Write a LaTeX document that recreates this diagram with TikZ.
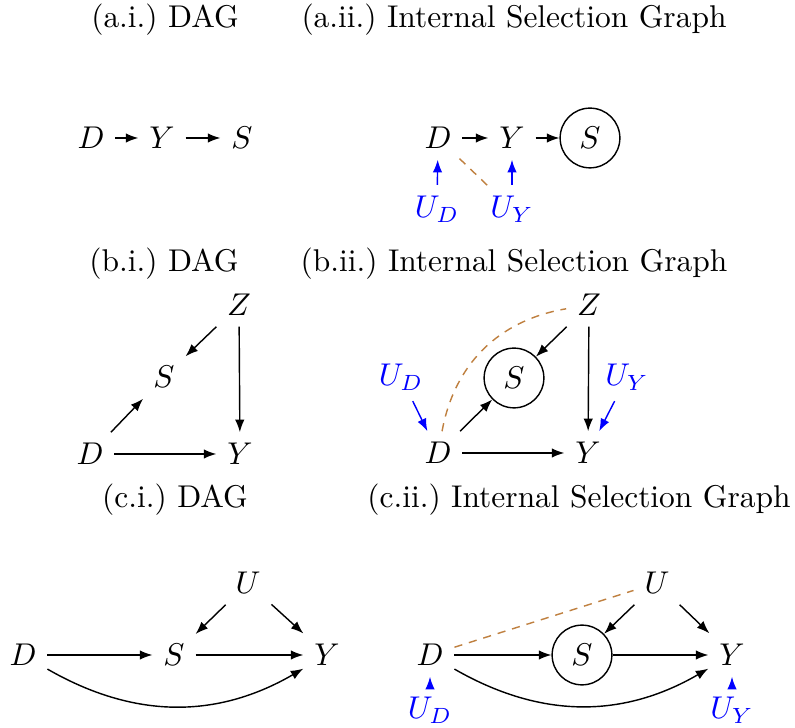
\documentclass[tikz,border=0pt]{standalone}
\usetikzlibrary{arrows.meta,calc}
\begin{document}
\begin{tikzpicture}[x=0.318pt,y=-0.318pt,
  var/.style={inner sep=3.3pt},
  selnode/.style={circle,draw,line width=0.45pt,minimum size=19pt,inner sep=0pt},
  arr/.style={-{Latex[length=4pt,width=3pt]},line width=0.45pt},
  uarr/.style={arr,blue},
  dep/.style={draw=brown,line width=0.45pt,dash pattern=on 2.6pt off 2.2pt},
  ttl/.style={inner sep=0pt}
]
\useasboundingbox (0,0) rectangle (795,728);

% titles
\node[ttl] (t1) at (165,20) {(a.i.)\ DAG};
\node[ttl] (t2) at (514,20) {(a.ii.)\ Internal Selection Graph};
\node[ttl] (t3) at (164,264) {(b.i.)\ DAG};
\node[ttl] (t4) at (514,264) {(b.ii.)\ Internal Selection Graph};
\node[ttl] (t5) at (175,500) {(c.i.)\ DAG};
\node[ttl] (t6) at (579,500) {(c.ii.)\ Internal Selection Graph};

% (a.i)
\node[var] (a1D) at (91,138) {$D$};
\node[var] (a1Y) at (162,138) {$Y$};
\node[var] (a1S) at (242,138) {$S$};
\draw[arr] (a1D) -- (a1Y);
\draw[arr] (a1Y) -- (a1S);

% (a.ii)
\node[var] (a2D) at (438,138) {$D$};
\node[var] (a2Y) at (512,138) {$Y$};
\node[selnode] (a2S) at (590,138) {$S$};
\node[var,blue] (a2UD) at (437,209) {$U_D$};
\node[var,blue] (a2UY) at (512,209) {$U_Y$};
\draw[arr] (a2D) -- (a2Y);
\draw[arr] (a2Y) -- (a2S);
\draw[uarr] (a2UD) -- (a2D);
\draw[uarr] (a2UY) -- (a2Y);
\draw[dep] ($(a2D)!0.29!(a2UY)$) -- ($(a2D)!0.67!(a2UY)$);

% (b.i)
\node[var] (b1Z) at (239,305) {$Z$};
\node[var] (b1S) at (164,377) {$S$};
\node[var] (b1D) at (90,454) {$D$};
\node[var] (b1Y) at (240,454) {$Y$};
\draw[arr] (b1Z) -- (b1S);
\draw[arr] (b1D) -- (b1S);
\draw[arr] (b1Z) -- (b1Y);
\draw[arr] (b1D) -- (b1Y);

% (b.ii)
\node[var] (b2Z) at (589,305) {$Z$};
\node[selnode] (b2S) at (514,378) {$S$};
\node[var] (b2D) at (438,453) {$D$};
\node[var] (b2Y) at (588,453) {$Y$};
\node[var,blue] (b2UD) at (401,377) {$U_D$};
\node[var,blue] (b2UY) at (627,377) {$U_Y$};
\draw[arr] (b2Z) -- (b2S);
\draw[arr] (b2D) -- (b2S);
\draw[arr] (b2Z) -- (b2Y);
\draw[arr] (b2D) -- (b2Y);
\draw[uarr] (b2UD) -- (b2D);
\draw[uarr] (b2UY) -- (b2Y);
\draw[dep] (b2D) to[bend left=35] (b2Z);

% (c.i)
\node[var] (c1U) at (248,583) {$U$};
\node[var] (c1D) at (23,655) {$D$};
\node[var] (c1S) at (174,655) {$S$};
\node[var] (c1Y) at (327,655) {$Y$};
\draw[arr] (c1D) -- (c1S);
\draw[arr] (c1S) -- (c1Y);
\draw[arr] (c1U) -- (c1S);
\draw[arr] (c1U) -- (c1Y);
\draw[arr] (c1D) to[bend right=30] (c1Y);

% (c.ii)
\node[var] (c2U) at (657,583) {$U$};
\node[var] (c2D) at (430,655) {$D$};
\node[selnode] (c2S) at (582,655) {$S$};
\node[var] (c2Y) at (732,655) {$Y$};
\node[var,blue] (c2UD) at (430,710) {$U_D$};
\node[var,blue] (c2UY) at (732,710) {$U_Y$};
\draw[arr] (c2D) -- (c2S);
\draw[arr] (c2S) -- (c2Y);
\draw[arr] (c2U) -- (c2S);
\draw[arr] (c2U) -- (c2Y);
\draw[arr] (c2D) to[bend right=30] (c2Y);
\draw[uarr] (c2UD) -- (c2D);
\draw[uarr] (c2UY) -- (c2Y);
\draw[dep] (c2D) -- (c2U);
\end{tikzpicture}
\end{document}
